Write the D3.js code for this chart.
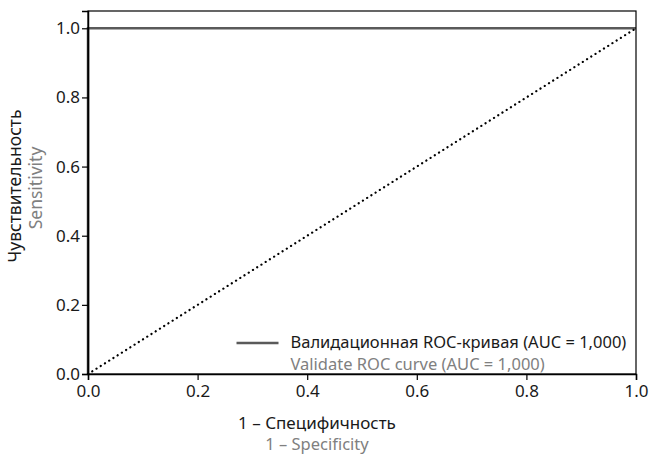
<!DOCTYPE html>
<html>
<head>
<meta charset="utf-8">
<script src="https://cdn.jsdelivr.net/npm/d3@7"></script>
<style>
  body { margin: 0; background: #fff; }
  text { font-family: "Noto Sans", sans-serif; }
</style>
</head>
<body>
<svg id="chart"></svg>
<script>
// ROC data
const rocFpr = [0, 0, 1];
const rocTpr = [0, 1, 1];
const refFpr = [0, 1];
const refTpr = [0, 1];
const xTicks = [0, 0.2, 0.4, 0.6, 0.8, 1.0];
const yTicks = [0, 0.2, 0.4, 0.6, 0.8, 1.0];
const legendRu = "Валидационная ROC-кривая (AUC = 1,000)";
const legendEn = "Validate ROC curve (AUC = 1,000)";
const xTitleRu = "1 – Специфичность";
const xTitleEn = "1 – Specificity";
const yTitleRu = "Чувствительность";
const yTitleEn = "Sensitivity";

const width = 650, height = 456;
const margin = { top: 11, right: 14, bottom: 82, left: 88 };
const plotW = width - margin.left - margin.right;
const plotH = height - margin.top - margin.bottom;

const svg = d3.select("#chart").attr("width", width).attr("height", height);
const g = svg.append("g").attr("transform", `translate(${margin.left},${margin.top})`);

const x = d3.scaleLinear().domain([0, 1]).range([0, plotW]);
const y = d3.scaleLinear().domain([0, 1.05]).range([plotH, 0]);

const line = d3.line().x(d => x(d[0])).y(d => y(d[1]));

// ROC curve (drawn under the axes)
g.append("path")
  .datum(rocFpr.map((v, i) => [v, rocTpr[i]]))
  .attr("d", line)
  .attr("fill", "none").attr("stroke", "#5a5a5a").attr("stroke-width", 2.5);

// diagonal reference
g.append("path")
  .datum(refFpr.map((v, i) => [v, refTpr[i]]))
  .attr("d", line)
  .attr("fill", "none").attr("stroke", "#000").attr("stroke-width", 2.2)
  .attr("stroke-dasharray", "0.1 4.9").attr("stroke-linecap", "round");

// frame
g.append("rect")
  .attr("x", 0).attr("y", 0).attr("width", plotW).attr("height", plotH)
  .attr("fill", "none").attr("stroke", "#000").attr("stroke-width", 1.2);

// axes
const xAxis = g.append("g").attr("transform", `translate(0,${plotH})`)
  .call(d3.axisBottom(x).tickValues(xTicks).tickFormat(d3.format(".1f")).tickSizeOuter(0).tickSize(6));
const yAxis = g.append("g")
  .call(d3.axisLeft(y).tickValues(yTicks).tickFormat(d3.format(".1f")).tickSizeOuter(0).tickSize(6));
[xAxis, yAxis].forEach(a => {
  a.select(".domain").attr("stroke", "#000").attr("stroke-width", 1.5);
  a.selectAll(".tick line").attr("stroke", "#000").attr("stroke-width", 1.2);
  a.selectAll(".tick text").attr("fill", "#1a1a1a").style("font-size", "17px").style("font-family", "Noto Sans");
});
xAxis.selectAll(".tick text").attr("dy", "0.8em");
yAxis.selectAll(".tick text").attr("x", -8);

// legend
const leg = g.append("g").attr("transform", `translate(${x(0.271)},${y(0.09)})`);
leg.append("line").attr("x1", 0).attr("x2", 42).attr("y1", 0).attr("y2", 0)
  .attr("stroke", "#5a5a5a").attr("stroke-width", 2.5);
leg.append("text").attr("x", 54).attr("y", -1).attr("dy", "0.35em")
  .style("font-size", "16.5px").attr("fill", "#1a1a1a").text(legendRu);
leg.append("text").attr("x", 54).attr("y", 21).attr("dy", "0.35em")
  .style("font-size", "16.5px").attr("fill", "#808080").text(legendEn);

// x title
svg.append("text").attr("x", margin.left + plotW / 2 - 45).attr("y", 429)
  .attr("text-anchor", "middle").style("font-size", "17px").attr("fill", "#1a1a1a").text(xTitleRu);
svg.append("text").attr("x", margin.left + plotW / 2 - 45).attr("y", 450)
  .attr("text-anchor", "middle").style("font-size", "16.5px").attr("fill", "#808080").text(xTitleEn);

// y title
svg.append("text").attr("transform", `translate(21,186) rotate(-90)`)
  .attr("text-anchor", "middle").style("font-size", "17.5px").attr("fill", "#1a1a1a").text(yTitleRu);
svg.append("text").attr("transform", `translate(42,188) rotate(-90)`)
  .attr("text-anchor", "middle").style("font-size", "17.5px").attr("fill", "#808080").text(yTitleEn);
</script>
</body>
</html>
